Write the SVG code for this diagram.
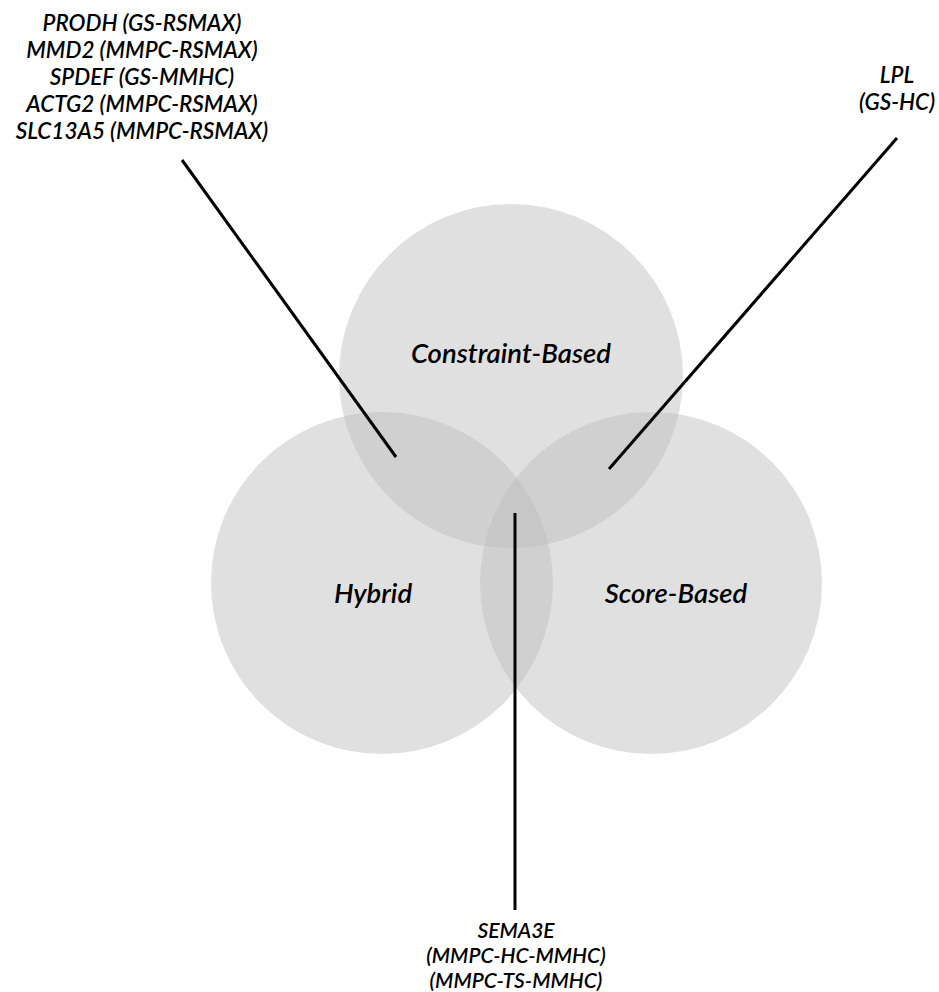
<svg xmlns="http://www.w3.org/2000/svg" width="939" height="992" viewBox="0 0 939 992">
<style>
.c{fill:#bfbfbf;fill-opacity:0.48}
.t{font-family:Lato,"Open Sans","Liberation Sans",sans-serif;font-style:italic;font-weight:600;fill:#000;text-anchor:middle}
.big{font-size:27.5px}
.sm{font-size:22.5px}
.bt{font-size:21px}
.ln{stroke:#000;stroke-width:3;fill:none}
</style>
<rect width="939" height="992" fill="#fff"/>
<g id="constraint-based"><circle class="c" cx="511" cy="376" r="172"/><text class="t big" x="511" y="363">Constraint-Based</text></g>
<g id="hybrid"><circle class="c" cx="382" cy="583" r="171"/><text class="t big" x="373" y="603">Hybrid</text></g>
<g id="score-based"><circle class="c" cx="651" cy="583" r="171"/><text class="t big" x="676" y="603">Score-Based</text></g>
<g id="connectors">
<line class="ln" x1="182" y1="160" x2="396" y2="457"/>
<line class="ln" x1="897" y1="138" x2="609" y2="469"/>
<line class="ln" x1="515" y1="513" x2="515" y2="910"/>
</g>
<g id="label-constraint-hybrid" class="t sm">
<text x="142" y="31">PRODH (GS-RSMAX)</text>
<text x="142" y="58">MMD2 (MMPC-RSMAX)</text>
<text x="142" y="85">SPDEF (GS-MMHC)</text>
<text x="142" y="112">ACTG2 (MMPC-RSMAX)</text>
<text x="142" y="139">SLC13A5 (MMPC-RSMAX)</text>
</g>
<g id="label-constraint-score" class="t sm">
<text x="897" y="83">LPL</text>
<text x="897" y="110">(GS-HC)</text>
</g>
<g id="label-all" class="t bt">
<text x="516" y="938">SEMA3E</text>
<text x="516" y="963">(MMPC-HC-MMHC)</text>
<text x="516" y="988">(MMPC-TS-MMHC)</text>
</g>
</svg>
